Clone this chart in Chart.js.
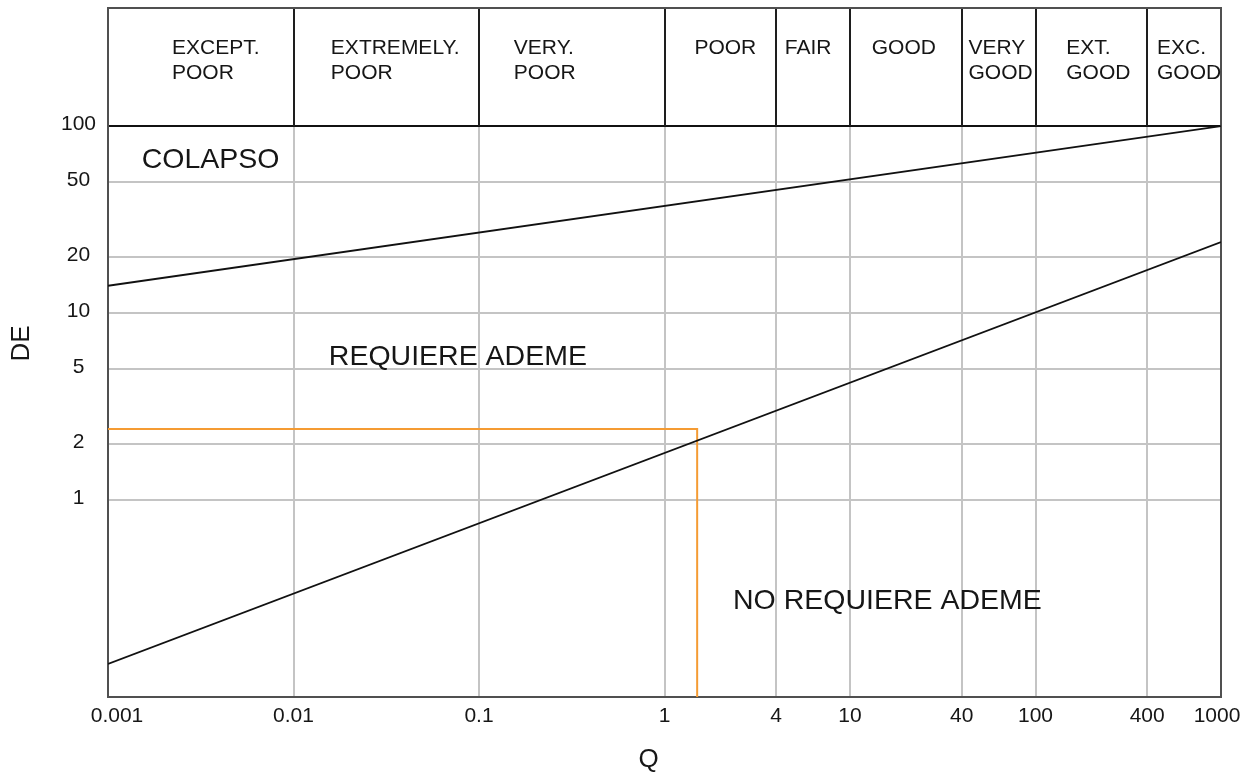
<!DOCTYPE html>
<html>
<head>
<meta charset="utf-8">
<title>DE - Q</title>
<script src="https://cdn.jsdelivr.net/npm/chart.js@4.4.1/dist/chart.umd.min.js"></script>
<style>
  html, body { margin: 0; padding: 0; background: #ffffff; }
  canvas { display: block; }
</style>
</head>
<body>
<canvas id="chart" width="1252" height="773"></canvas>
<script>
// Rock mass classes along the Q axis (class limits and names)
const classBounds = [0.001, 0.01, 0.1, 1, 4, 10, 40, 100, 400, 1000];
const classNames = [
  ['EXCEPT.', 'POOR'],
  ['EXTREMELY.', 'POOR'],
  ['VERY.', 'POOR'],
  ['POOR'],
  ['FAIR'],
  ['GOOD'],
  ['VERY', 'GOOD'],
  ['EXT.', 'GOOD'],
  ['EXC.', 'GOOD']
];

// Axis ticks
const qTicks = [0.001, 0.01, 0.1, 1, 4, 10, 40, 100, 400, 1000];
const qTickLabels = ['0.001', '0.01', '0.1', '1', '4', '10', '40', '100', '400', '1000'];
const deTicks = [1, 2, 5, 10, 20, 50, 100];
const deTickLabels = ['1', '2', '5', '10', '20', '50', '100'];

// Upper boundary (collapse)
const collapseQ = [0.001, 1000];
const collapseDE = [14, 100];

// Lower boundary (support / no support)
const supportQ = [0.001, 1000];
const supportDE = [0.133, 24];

// Design point reading: Q = 1.5, DE = 2.4
const readQ = [0.001, 1.5, 1.5];
const readDE = [2.4, 2.4, 0.0885];

// Zone names
const zoneNames = ['COLAPSO', 'REQUIERE ADEME', 'NO REQUIERE ADEME'];

// ---- layout (not data) ----
const DE_MIN = 0.0885;
const DE_MAX = 428;
const FONT = "'Liberation Sans', Arial, Helvetica, sans-serif";
const INK = '#161616';
const GRID = '#c4c4c4';
const FRAME = '#505050';
// text anchors of the zone names, in (Q, DE)
const zoneAnchors = [[0.00152, 66], [0.0155, 5.8], [2.34, 0.288]];
// small horizontal nudges of the class names inside their cells, px
const classNudge = [15, 9, -27, 5, -5, -2, 2, 7, 5];
// edge tick labels sit slightly inside the frame, px
const edgeLabelShift = { first: 9, last: -4 };

const pts = (xs, ys) => xs.map((x, i) => ({ x: x, y: ys[i] }));

const decorations = {
  id: 'decorations',
  beforeDatasetsDraw(chart) {
    const { ctx, chartArea: a, scales: { x, y } } = chart;
    const yTop = y.getPixelForValue(100);
    ctx.save();
    // header cell separators
    ctx.strokeStyle = '#1e1e1e';
    ctx.lineWidth = 2;
    ctx.beginPath();
    classBounds.slice(1, -1).forEach(q => {
      const px = Math.round(x.getPixelForValue(q));
      ctx.moveTo(px, a.top);
      ctx.lineTo(px, yTop);
    });
    ctx.stroke();
    // frame
    ctx.strokeStyle = FRAME;
    ctx.beginPath();
    ctx.moveTo(Math.round(a.left), Math.round(a.top));
    ctx.lineTo(Math.round(a.right), Math.round(a.top));
    ctx.lineTo(Math.round(a.right), Math.round(a.bottom));
    ctx.stroke();
    ctx.restore();
  },
  afterDatasetsDraw(chart) {
    const { ctx, chartArea: a, scales: { x, y } } = chart;
    ctx.save();
    ctx.fillStyle = INK;
    ctx.textBaseline = 'middle';
    ctx.textAlign = 'left';

    // class names in the header
    ctx.font = '21px ' + FONT;
    const line1 = a.top + 40.5;
    const lineGap = 25;
    classNames.forEach((lines, i) => {
      const l = x.getPixelForValue(classBounds[i]);
      const r = x.getPixelForValue(classBounds[i + 1]);
      const w = Math.max(...lines.map(t => ctx.measureText(t).width));
      const left = (l + r) / 2 - w / 2 + classNudge[i];
      lines.forEach((t, k) => ctx.fillText(t, left, line1 + k * lineGap));
    });

    // zone names
    ctx.font = '28.5px ' + FONT;
    zoneNames.forEach((t, i) => {
      const [q, de] = zoneAnchors[i];
      ctx.fillText(t, x.getPixelForValue(q), y.getPixelForValue(de));
    });

    // axis titles
    ctx.font = '26px ' + FONT;
    ctx.textAlign = 'center';
    ctx.fillText('Q', (a.left + a.right) / 2 - 16, chart.height - 13);
    ctx.translate(22, (a.top + a.bottom) / 2 - 9);
    ctx.rotate(-Math.PI / 2);
    ctx.fillText('DE', 0, 0);
    ctx.restore();
  }
};

// shift the outermost x tick labels once the scale has laid them out
const edgeLabels = {
  id: 'edgeLabels',
  beforeDraw(chart) {
    const xs = chart.scales.x;
    const items = xs.getLabelItems(chart.chartArea);
    if (!items || !items.length || items._edgeShifted) return;
    items[0].options.translation[0] += edgeLabelShift.first;
    items[items.length - 1].options.translation[0] += edgeLabelShift.last;
    items._edgeShifted = true;
  }
};

Chart.defaults.font.family = FONT;
Chart.defaults.color = INK;

new Chart(document.getElementById('chart'), {
  type: 'line',
  data: {
    datasets: [
      { data: pts(collapseQ, collapseDE), borderColor: '#111111', borderWidth: 1.8 },
      { data: pts(supportQ, supportDE), borderColor: '#111111', borderWidth: 1.8 },
      { data: pts(readQ, readDE), borderColor: '#f59b33', borderWidth: 2 }
    ]
  },
  options: {
    responsive: false,
    animation: false,
    devicePixelRatio: 1,
    elements: { point: { radius: 0, hoverRadius: 0 }, line: { tension: 0, fill: false } },
    layout: { padding: { left: 0, top: 8, right: 31, bottom: 0 } },
    plugins: { legend: { display: false }, tooltip: { enabled: false } },
    events: [],
    scales: {
      x: {
        type: 'logarithmic',
        min: 0.001,
        max: 1000,
        afterBuildTicks: s => { s.ticks = qTicks.map(v => ({ value: v })); },
        afterFit: s => { s.height = 76; s.paddingLeft = 0; s.paddingRight = 0; },
        ticks: {
          autoSkip: false,
          maxRotation: 0,
          padding: 7,
          font: { size: 21 },
          color: INK,
          callback: (v, i) => qTickLabels[i]
        },
        grid: { color: GRID, lineWidth: 2, drawTicks: false },
        border: { color: FRAME, width: 2 }
      },
      y: {
        type: 'logarithmic',
        min: DE_MIN,
        max: DE_MAX,
        afterBuildTicks: s => { s.ticks = deTicks.map(v => ({ value: v })); },
        afterFit: s => { s.width = 108; s.paddingTop = 0; s.paddingBottom = 0; },
        ticks: {
          autoSkip: false,
          padding: 12,
          crossAlign: 'center',
          labelOffset: -2,
          font: { size: 21 },
          color: INK,
          callback: (v, i) => deTickLabels[i]
        },
        grid: {
          color: c => (c.tick && c.tick.value === 100) ? '#111111' : GRID,
          lineWidth: 2,
          drawTicks: false
        },
        border: { color: FRAME, width: 2 }
      }
    }
  },
  plugins: [decorations, edgeLabels]
});
</script>
</body>
</html>
